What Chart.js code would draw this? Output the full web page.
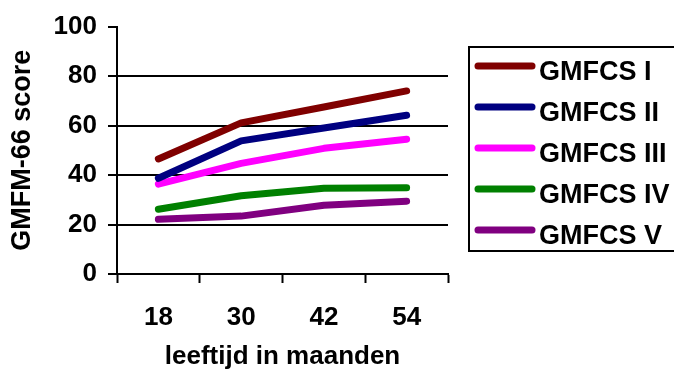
<!DOCTYPE html>
<html>
<head>
<meta charset="utf-8">
<script src="https://cdn.jsdelivr.net/npm/chart.js@4"></script>
<style>
  html, body { margin: 0; padding: 0; background: #fff; }
  #wrap { width: 674px; height: 374px; }
</style>
</head>
<body>
<div id="wrap"><canvas id="c" width="674" height="374"></canvas></div>
<script>
// Age in months
const ages = ['18', '30', '42', '54'];

// Mean GMFM-66 score per GMFCS level
const gmfcs1 = [46.5, 61.1, 67.5, 74.0];
const gmfcs2 = [38.7, 53.8, 59.0, 64.2];
const gmfcs3 = [36.3, 44.7, 50.8, 54.5];
const gmfcs4 = [26.2, 31.6, 34.7, 34.9];
const gmfcs5 = [22.1, 23.4, 27.8, 29.4];

const seriesNames = ['GMFCS I', 'GMFCS II', 'GMFCS III', 'GMFCS IV', 'GMFCS V'];
const seriesColors = ['#800000', '#000080', '#FF00FF', '#008000', '#800080'];
const seriesValues = [gmfcs1, gmfcs2, gmfcs3, gmfcs4, gmfcs5];

const yTicks = [0, 20, 40, 60, 80, 100];

const FONT = '"Liberation Sans", Arial, Helvetica, sans-serif';

// Boxed legend on the right-hand side
const boxLegend = {
  id: 'boxLegend',
  afterDraw(chart) {
    const ctx = chart.ctx;
    const left = 469, top = 47, bottom = 251;
    const rowGap = 41, firstRow = 66;
    ctx.save();
    ctx.strokeStyle = '#000';
    ctx.lineWidth = 2;
    ctx.strokeRect(left, top, 700 - left, bottom - top);
    chart.data.datasets.forEach((ds, i) => {
      const y = firstRow + i * rowGap;
      ctx.beginPath();
      ctx.lineCap = 'round';
      ctx.lineWidth = 7;
      ctx.strokeStyle = ds.borderColor;
      ctx.moveTo(478, y);
      ctx.lineTo(532, y);
      ctx.stroke();
      ctx.fillStyle = '#000';
      ctx.font = 'bold 27px ' + FONT;
      ctx.textAlign = 'left';
      ctx.textBaseline = 'alphabetic';
      ctx.fillText(ds.label, 539, y + 13.5);
    });
    ctx.restore();
  }
};

new Chart(document.getElementById('c'), {
  type: 'line',
  data: {
    labels: ages,
    datasets: seriesNames.map((name, i) => ({
      label: name,
      data: seriesValues[i],
      borderColor: seriesColors[i],
      backgroundColor: seriesColors[i],
      borderWidth: 7,
      borderCapStyle: 'round',
      borderJoinStyle: 'round',
      pointRadius: 0,
      pointHoverRadius: 0,
      tension: 0,
      fill: false
    }))
  },
  options: {
    responsive: false,
    animation: false,
    events: [],
    layout: { padding: { top: 25, right: 226, left: 0, bottom: 0 } },
    plugins: {
      legend: { display: false },
      tooltip: { enabled: false }
    },
    scales: {
      x: {
        type: 'category',
        offset: true,
        afterFit(scale) { scale.height = 100; },
        border: { display: true, color: '#000', width: 2 },
        grid: {
          offset: true,
          drawOnChartArea: false,
          drawTicks: true,
          tickLength: 9,
          tickColor: '#000',
          tickWidth: 2
        },
        ticks: {
          color: '#000',
          padding: 19,
          font: { family: FONT, size: 26, weight: 'bold' }
        },
        title: {
          display: true,
          text: 'leeftijd in maanden',
          color: '#000',
          font: { family: FONT, size: 26, weight: 'bold' },
          padding: { top: 0, bottom: 2 }
        }
      },
      y: {
        min: 0,
        max: 100,
        afterFit(scale) { scale.width = 117; },
        afterBuildTicks(scale) { scale.ticks = yTicks.map(v => ({ value: v })); },
        border: { display: true, color: '#000', width: 2 },
        grid: {
          color: ctx => (ctx.tick && ctx.tick.value > 0 && ctx.tick.value < 100) ? '#000' : 'rgba(0,0,0,0)',
          lineWidth: 2,
          drawTicks: true,
          tickLength: 9,
          tickColor: '#000',
          tickWidth: 2
        },
        ticks: {
          color: '#000',
          padding: 11,
          font: { family: FONT, size: 26, weight: 'bold' }
        },
        title: {
          display: true,
          text: 'GMFM-66 score',
          color: '#000',
          font: { family: FONT, size: 27, weight: 'bold' },
          padding: { top: 6, bottom: 0 }
        }
      }
    }
  },
  plugins: [boxLegend]
});
</script>
</body>
</html>
